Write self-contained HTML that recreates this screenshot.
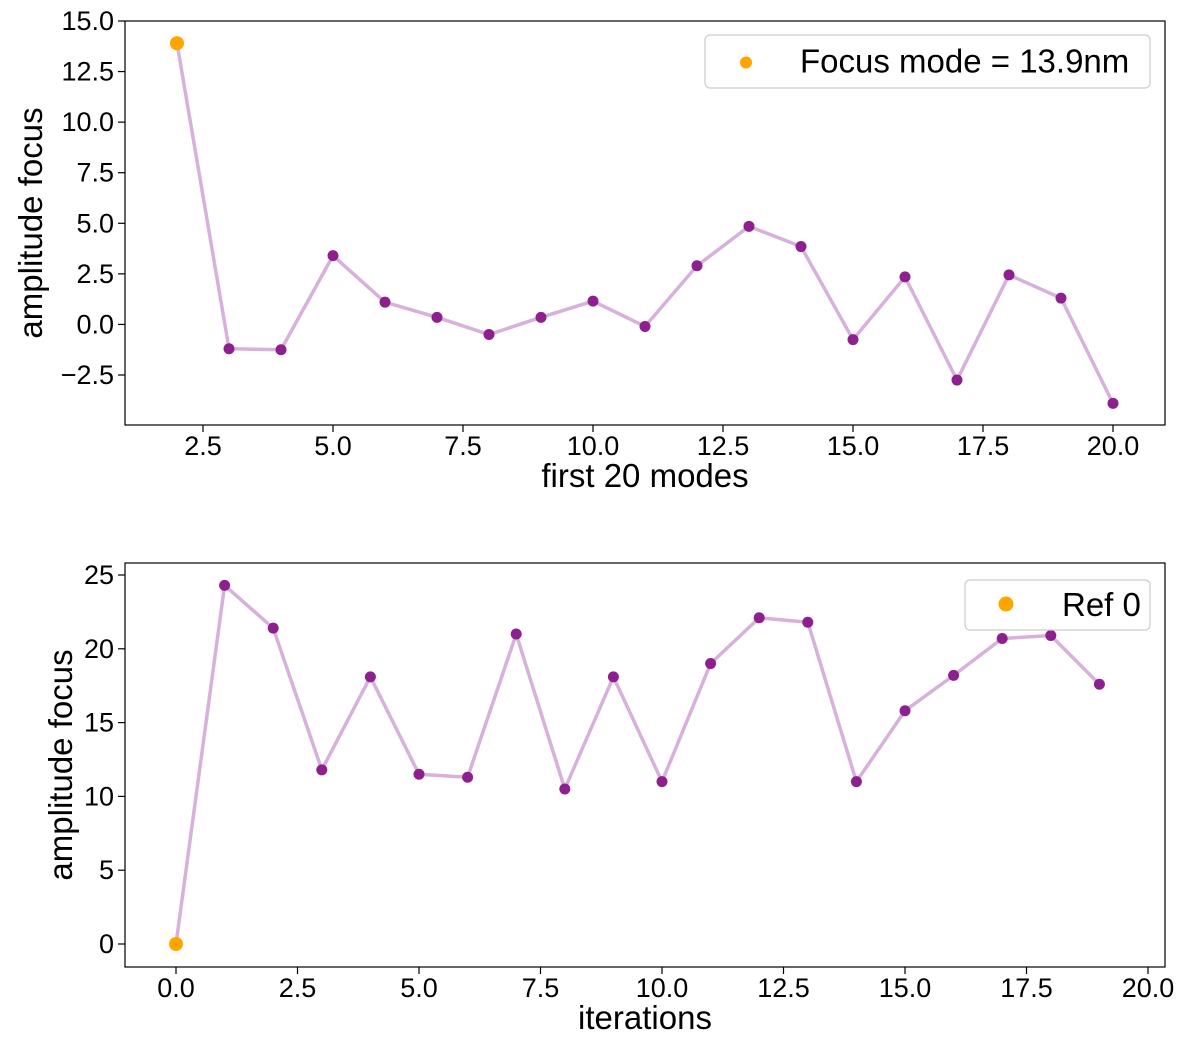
<!DOCTYPE html>
<html><head><meta charset="utf-8"><style>
body{margin:0;background:#fff;}
svg text{font-family:"Liberation Sans","DejaVu Sans",sans-serif;fill:#000;}
</style></head><body>
<svg id="chart" width="1200" height="1034" xmlns="http://www.w3.org/2000/svg"></svg>
<script>
const modesX=[2,3,4,5,6,7,8,9,10,11,12,13,14,15,16,17,18,19,20];
const modesY=[13.9,-1.2,-1.25,3.4,1.1,0.35,-0.5,0.35,1.15,-0.1,2.9,4.85,3.85,-0.75,2.35,-2.75,2.45,1.3,-3.9];
const topXTicks=[2.5,5.0,7.5,10.0,12.5,15.0,17.5,20.0];
const topYTicks=[-2.5,0.0,2.5,5.0,7.5,10.0,12.5,15.0];
const iterX=[0,1,2,3,4,5,6,7,8,9,10,11,12,13,14,15,16,17,18,19];
const iterY=[0,24.3,21.4,11.8,18.1,11.5,11.3,21.0,10.5,18.1,11.0,19.0,22.1,21.8,11.0,15.8,18.2,20.7,20.9,17.6];
const botXTicks=[0.0,2.5,5.0,7.5,10.0,12.5,15.0,17.5,20.0];
const botYTicks=[0,5,10,15,20,25];

const svg=document.getElementById('chart');
const NS='http://www.w3.org/2000/svg';
function mk(tag,attrs,parent){const e=document.createElementNS(NS,tag);for(const k in attrs)e.setAttribute(k,attrs[k]);(parent||svg).appendChild(e);return e;}

function panel(o){
  const g=mk('g',{});
  
  
  const sx=v=>o.px0+(v-o.x0)*(o.px1-o.px0)/(o.x1-o.x0);
  const sy=v=>o.py0+(v-o.y0)*(o.py1-o.py0)/(o.y1-o.y0);
  o.xt.forEach(t=>{
    const x=sx(t);
    mk('line',{x1:x,x2:x,y1:o.B,y2:o.B+7,stroke:'#000','stroke-width':1.2},g);
    const tx=mk('text',{x:x,y:o.B+30,'font-size':27,'text-anchor':'middle'},g);
    tx.textContent=t.toFixed(1);
    
    
  });
  o.yt.forEach(t=>{
    const y=sy(t);
    mk('line',{x1:o.L-7,x2:o.L,y1:y,y2:y,stroke:'#000','stroke-width':1.2},g);
    const tx=mk('text',{x:o.L-11,y:y+9,'font-size':27,'text-anchor':'end'},g);
    tx.textContent=o.yfmt(t);
    
    
  });
  const pts=o.xs.map((x,i)=>sx(x)+','+sy(o.ys[i])).join(' ');
  const line=mk('polyline',{points:pts,fill:'none',stroke:'#d8b0dc','stroke-width':3.5},g);
  
  
  o.xs.forEach((x,i)=>{
    if(i===0)return;
    const c=mk('circle',{cx:sx(x),cy:sy(o.ys[i]),r:5.5,fill:'#8e1f8e'},g);
    
    
  });
  const f=mk('circle',{cx:sx(o.xs[0]),cy:sy(o.ys[0]),r:7,fill:'#ffa500'},g);
  
  
  const fr=mk('rect',{x:o.L,y:o.T,width:o.R-o.L,height:o.B-o.T,fill:'none',stroke:'#000','stroke-width':1.2},g);
  
  
  const xl=mk('text',{x:(o.L+o.R)/2,y:o.B+62,'font-size':33,'text-anchor':'middle'},g);
  xl.textContent=o.xlabel;
  
  
  const yl=mk('text',{x:0,y:0,'font-size':33,'text-anchor':'middle',transform:`translate(${o.ylx},${(o.T+o.B)/2}) rotate(-90)`},g);
  yl.textContent='amplitude focus';
  
  
  const lg=mk('g',{},g);
  
  
  mk('rect',{x:o.lg[0],y:o.lg[1],width:o.lg[2],height:o.lg[3],rx:5,fill:'#fff',stroke:'#ccc','stroke-width':1.2},lg);
  mk('circle',{cx:o.lg[0]+o.lgDot,cy:o.lg[1]+o.lg[3]/2+o.lgDy,r:o.lgR,fill:'#ffa500'},lg);
  const lt=mk('text',{x:o.lg[0]+o.lgTx,y:o.lg[1]+o.lg[3]/2+11,'font-size':33},lg);
  lt.textContent=o.ltext;
  
  
}

panel({name:'top-chart',L:125,R:1165,T:21,B:425,x0:2.5,x1:20,px0:203,px1:1113,y0:15,y1:-2.5,py0:21,py1:375,
  xt:topXTicks,yt:topYTicks,yfmt:t=>(t<0?'\u22122.5':t.toFixed(1)),xs:modesX,ys:modesY,xlabel:'first 20 modes',ylx:42,
  lg:[705,35,445,53],lgDot:41,lgDy:1,lgR:6,lgTx:95,ltext:'Focus mode = 13.9nm'});
panel({name:'bottom-chart',L:125,R:1165,T:563,B:967,x0:0,x1:20,px0:176,px1:1148,y0:25,y1:0,py0:575,py1:944,
  xt:botXTicks,yt:botYTicks,yfmt:t=>String(t),xs:iterX,ys:iterY,xlabel:'iterations',ylx:72,
  lg:[965,580,185,50],lgDot:41,lgDy:-1,lgR:7.5,lgTx:97,ltext:'Ref 0'});
</script>
</body></html>
